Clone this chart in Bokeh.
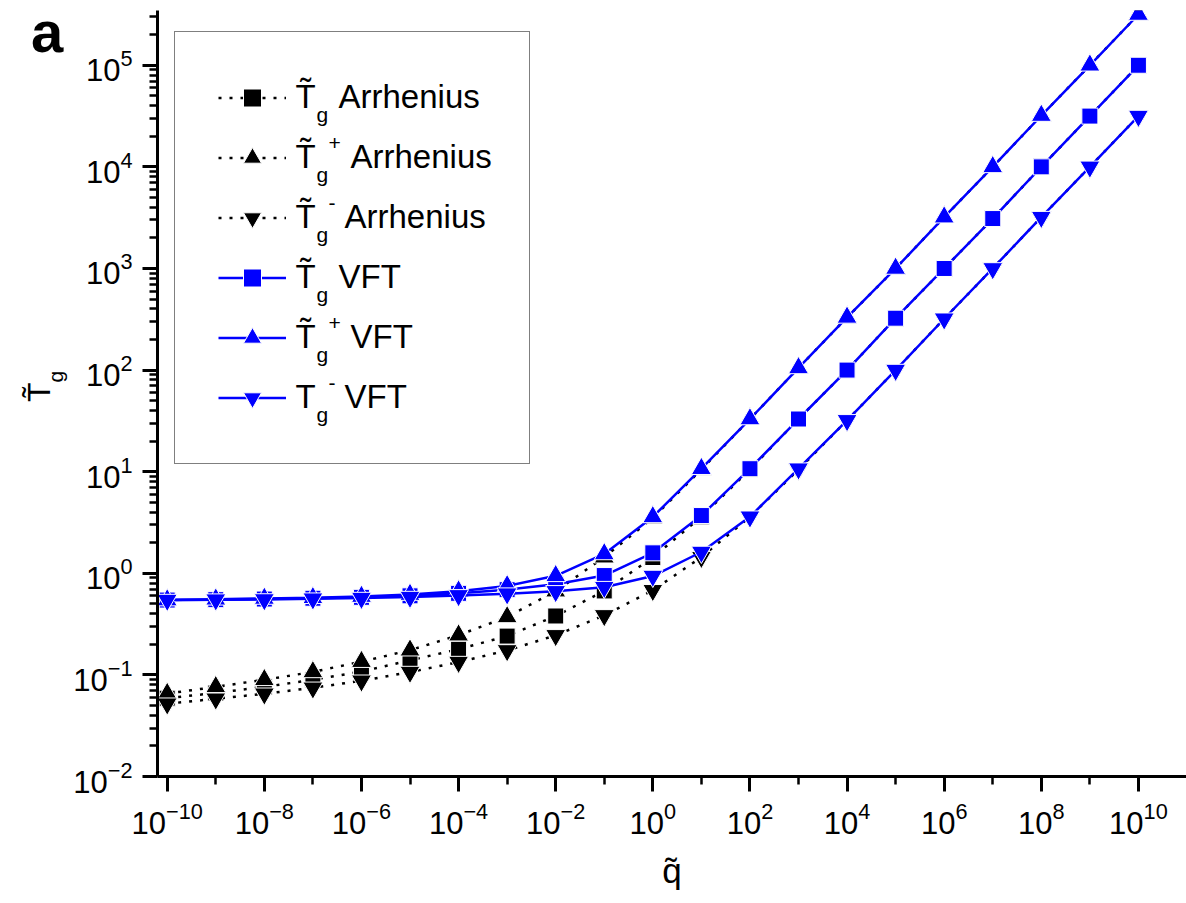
from bokeh.plotting import figure
from bokeh.models import Range1d, FixedTicker, Legend, LegendItem, Label, Div
from bokeh.layouts import row
from bokeh.embed import file_html
from bokeh.resources import INLINE

FONT = "Liberation Sans"

# ---------------- data ----------------
q = [1e-10, 1e-9, 1e-8, 1e-7, 1e-6, 1e-5, 1e-4, 1e-3, 1e-2, 1e-1, 1e0,
     1e1, 1e2, 1e3, 1e4, 1e5, 1e6, 1e7, 1e8, 1e9, 1e10]

tg_arr = [0.059, 0.0664, 0.0762, 0.0894, 0.108, 0.139, 0.179, 0.241, 0.38, 0.67, 1.43,
          3.6, 10.5, 33, 100, 324, 1000, 3100, 10000, 31600, 100000]
tg_plus_arr = [0.0654, 0.0763, 0.0895, 0.107, 0.135, 0.175, 0.246, 0.372, 0.667, 1.44, 3.5,
               10.5, 33, 105, 330, 1000, 3200, 10000, 32000, 100000, 316000]
tg_minus_arr = [0.052, 0.0582, 0.0652, 0.0746, 0.0875, 0.1066, 0.1336, 0.174, 0.245, 0.385, 0.68,
                1.44, 3.6, 10.5, 32, 100, 320, 1000, 3200, 10000, 31600]

tg_vft = [0.545, 0.55, 0.558, 0.568, 0.58, 0.60, 0.635, 0.69, 0.78, 0.95, 1.59,
          3.7, 10.7, 33, 100, 324, 1000, 3100, 10000, 31600, 100000]
tg_plus_vft = [0.545, 0.555, 0.565, 0.574, 0.59, 0.618, 0.667, 0.751, 0.944, 1.55, 3.59,
               10.7, 33, 105, 330, 1000, 3200, 10000, 32000, 100000, 316000]
tg_minus_vft = [0.545, 0.55, 0.552, 0.562, 0.57, 0.583, 0.606, 0.63, 0.664, 0.73, 0.94,
                1.62, 3.6, 10.7, 32, 100, 320, 1000, 3200, 10000, 31600]

x_major = [1e-10, 1e-8, 1e-6, 1e-4, 1e-2, 1e0, 1e2, 1e4, 1e6, 1e8, 1e10]
x_minor = [1e-9, 1e-7, 1e-5, 1e-3, 1e-1, 1e1, 1e3, 1e5, 1e7, 1e9]
y_major = [1e-2, 1e-1, 1e0, 1e1, 1e2, 1e3, 1e4, 1e5]
y_minor = [m * 10.0 ** k for k in range(-2, 6) for m in range(2, 10)]

legend_heads = ["T\u0303", "T\u0303", "T\u0303", "T\u0303", "T\u0303", "T"]
legend_sups = ["", "+", "-", "", "+", "-"]
legend_tails = ["Arrhenius", "Arrhenius", "Arrhenius", "VFT", "VFT", "VFT"]

# ---------------- layout (page pixels) ----------------
DW = 68                      # width of the side strip holding the outer texts
W, H = 1186 - DW, 900
FL, FR, FT, FB = 157, 1186, 10, 776

p = figure(width=W, height=H, x_axis_type="log", y_axis_type="log",
           x_range=Range1d(10 ** -10.2, 10 ** 10.99),
           y_range=Range1d(1e-2, 10 ** 5.539),
           output_backend="svg", toolbar_location=None,
           min_border_left=FL - DW, min_border_right=0,
           min_border_top=FT, min_border_bottom=H - FB, margin=0)

p.xgrid.visible = False
p.ygrid.visible = False
p.outline_line_color = None
p.background_fill_color = "white"
p.border_fill_color = "white"

p.xaxis.ticker = FixedTicker(ticks=x_major, minor_ticks=x_minor)
p.yaxis.ticker = FixedTicker(ticks=y_major, minor_ticks=y_minor)
for ax in p.axis:
    ax.axis_line_width = 3
    ax.axis_line_color = "black"
    ax.major_tick_line_width = 3
    ax.minor_tick_line_width = 2.5
    ax.major_tick_line_color = "black"
    ax.minor_tick_line_color = "black"
    ax.major_tick_out = 15
    ax.major_tick_in = 0
    ax.minor_tick_out = 8
    ax.minor_tick_in = 0
    ax.major_label_text_font = FONT
    ax.major_label_text_font_size = "31px"
    ax.major_label_text_color = "black"
    ax.major_label_standoff = 10

p.xaxis.axis_label = "q\u0303"
p.xaxis.axis_label_text_font = FONT
p.xaxis.axis_label_text_font_size = "35px"
p.xaxis.axis_label_text_font_style = "normal"
p.xaxis.axis_label_text_color = "black"
p.xaxis.axis_label_standoff = 14


def series(y, color, marker, size, dash):
    ln = p.line(q, y, line_color=color, line_width=2.5, line_dash=dash)
    sc = p.scatter(q, y, marker=marker, size=size, fill_color=color,
                   line_color="white", line_width=1)
    return [ln, sc]


r1 = series(tg_arr, "black", "square", 16, "3 8")
r2 = series(tg_plus_arr, "black", "triangle", 20, "3 8")
r3 = series(tg_minus_arr, "black", "inverted_triangle", 20, "3 8")
r4 = series(tg_vft, "#0000FF", "square", 16, "solid")
r5 = series(tg_plus_vft, "#0000FF", "triangle", 20, "solid")
r6 = series(tg_minus_vft, "#0000FF", "inverted_triangle", 20, "solid")

# legend box (page px)
LG_L, LG_T, LG_R, LG_B = 174, 32, 529, 464
GLYPH_H, SPACING, GLYPH_W, STANDOFF = 45, 15, 68, 10
PAD = ((LG_B - LG_T) - 6 * GLYPH_H - 5 * SPACING) / 2
items = [LegendItem(label=" ", renderers=r) for r in (r1, r2, r3, r4, r5, r6)]
legend = Legend(items=items, location=(LG_L - FL, FB - LG_B),
                glyph_width=GLYPH_W, glyph_height=GLYPH_H, label_height=GLYPH_H,
                label_width=int((LG_R - LG_L) - 2 * PAD - GLYPH_W - STANDOFF),
                padding=int(PAD), spacing=SPACING, label_standoff=STANDOFF, margin=0,
                border_line_color="black", border_line_width=1.5,
                background_fill_color="white", background_fill_alpha=0.0,
                label_text_font=FONT, label_text_font_size="20px")
p.add_layout(legend)


def add_label(px, py, text, size):
    # py is the wanted baseline (page px); Bokeh draws it ~0.4 em lower
    p.add_layout(Label(x=px - FL, y=FB - (py - 0.4 * size), x_units="screen", y_units="screen",
                       text=text, text_font=FONT, text_font_size=f"{size}px",
                       text_color="black", text_align="left", text_baseline="alphabetic"))


text_x = 295
for i in range(6):
    cy = LG_T + PAD + (GLYPH_H + SPACING) * i + GLYPH_H / 2
    base = cy + 11
    add_label(text_x, base, legend_heads[i], 33)
    add_label(text_x + 21, base + 13, "g", 21)
    sup = legend_sups[i]
    if sup:
        add_label(text_x + 33, base - 18, sup, 21)
    tail_x = text_x + (43 if sup == "" else (55 if sup == "+" else 49))
    add_label(tail_x, base, legend_tails[i], 33)

# outer texts: panel letter and rotated y-axis title (T~ with subscript g)
side_html = (
    '<div style="position:relative;width:%dpx;height:%dpx;font-family:\'%s\';color:black;">'
    '<div style="position:absolute;left:31px;top:3px;font-size:58px;line-height:58px;'
    'font-weight:bold;">a</div>'
    '<div style="position:absolute;left:23px;top:402px;font-size:32px;line-height:32px;'
    'white-space:nowrap;transform:rotate(-90deg);transform-origin:0 0;">T&#771;'
    '<span style="font-size:21px;position:relative;top:13px;">g</span></div>'
    '</div>' % (DW, H, FONT))
side = Div(text=side_html, width=DW, height=H, margin=0)

layout = row(side, p, spacing=0)
open("out.html", "w").write(file_html(layout, INLINE))
